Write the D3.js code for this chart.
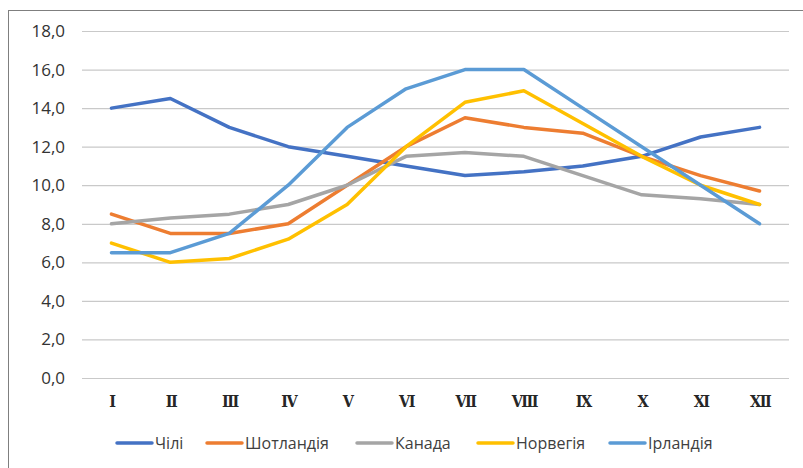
<!DOCTYPE html>
<html>
<head>
<meta charset="utf-8">
<script src="https://cdn.jsdelivr.net/npm/d3@7"></script>
<style>
  body { margin: 0; background: #fff; }
  svg { display: block; }
</style>
</head>
<body>
<div id="chart"></div>
<script>
const months = ['I', 'II', 'III', 'IV', 'V', 'VI', 'VII', 'VIII', 'IX', 'X', 'XI', 'XII'];
const yTicks = [0, 2, 4, 6, 8, 10, 12, 14, 16, 18];

const chile    = [14.0, 14.5, 13.0, 12.0, 11.5, 11.0, 10.5, 10.7, 11.0, 11.5, 12.5, 13.0];
const scotland = [8.5, 7.5, 7.5, 8.0, 10.0, 12.0, 13.5, 13.0, 12.7, 11.5, 10.5, 9.7];
const canada   = [8.0, 8.3, 8.5, 9.0, 10.0, 11.5, 11.7, 11.5, 10.5, 9.5, 9.3, 9.0];
const norway   = [7.0, 6.0, 6.2, 7.2, 9.0, 12.0, 14.3, 14.9, 13.2, 11.5, 10.0, 9.0];
const ireland  = [6.5, 6.5, 7.5, 10.0, 13.0, 15.0, 16.0, 16.0, 14.0, 12.0, 10.0, 8.0];

const seriesNames = ['Чілі', 'Шотландія', 'Канада', 'Норвегія', 'Ірландія'];
const seriesColors = ['#4472c4', '#ed7d31', '#a5a5a5', '#ffc000', '#5b9bd5'];

const series = [chile, scotland, canada, norway, ireland].map((values, i) => ({
    name: seriesNames[i],
    color: seriesColors[i],
    values: values
}));

const w = 803, h = 468;
const plot = { left: 82, right: 789, top: 31, bottom: 378 };

const svg = d3.select('#chart')
    .append('svg')
    .attr('width', w)
    .attr('height', h);

// chart frame
svg.append('rect')
    .attr('x', 8.5)
    .attr('y', 10.5)
    .attr('width', 900)
    .attr('height', 600)
    .attr('fill', 'none')
    .attr('stroke', '#7f7f7f')
    .attr('stroke-width', 1);

const x = d3.scalePoint()
    .domain(months)
    .range([plot.left, plot.right])
    .padding(0.5);

const y = d3.scaleLinear()
    .domain([0, 18])
    .range([plot.bottom, plot.top]);

// gridlines
const yAxis = d3.axisLeft(y)
    .tickValues(yTicks)
    .tickSize(-(plot.right - plot.left))
    .tickPadding(17)
    .tickFormat(d => d3.format('.1f')(d).replace('.', ','));

const gy = svg.append('g')
    .attr('transform', 'translate(' + plot.left + ',0)')
    .call(yAxis);
gy.select('.domain').remove();
gy.selectAll('line').attr('stroke', '#c9c9c9').attr('stroke-width', 1.2);
gy.selectAll('text')
    .attr('fill', '#333333')
    .style('font-family', '"Open Sans", "Noto Sans", sans-serif')
    .style('font-size', '17px');

const xAxis = d3.axisBottom(x).tickSize(0).tickPadding(18);
const gx = svg.append('g')
    .attr('transform', 'translate(0,' + plot.bottom + ')')
    .call(xAxis);
gx.select('.domain').remove();
gx.selectAll('text')
    .attr('fill', '#262626')
    .style('font-family', '"DejaVu Serif Condensed", "DejaVu Serif", serif')
    .style('font-weight', 'bold')
    .style('letter-spacing', '-1.5px')
    .style('font-size', '16px');

const line = d3.line()
    .x((d, i) => x(months[i]))
    .y(d => y(d));

svg.selectAll('path.series')
    .data(series)
    .join('path')
    .attr('class', 'series')
    .attr('fill', 'none')
    .attr('stroke', d => d.color)
    .attr('stroke-width', 3.5)
    .attr('stroke-linejoin', 'round')
    .attr('stroke-linecap', 'round')
    .attr('d', d => line(d.values));

// legend
const legendX = [116, 206, 356, 477, 609];
const legend = svg.append('g').attr('class', 'legend');
series.forEach((s, i) => {
    const g = legend.append('g').attr('transform', 'translate(' + legendX[i] + ',443)');
    g.append('line')
        .attr('x1', 1).attr('x2', 36)
        .attr('y1', 0).attr('y2', 0)
        .attr('stroke', s.color)
        .attr('stroke-width', 3.5)
        .attr('stroke-linecap', 'round');
    g.append('text')
        .attr('x', 39)
        .attr('y', 6)
        .attr('fill', '#404040')
        .style('font-family', '"Open Sans", "Noto Sans", sans-serif')
        .style('font-size', '16px')
        .text(s.name);
});
</script>
</body>
</html>
